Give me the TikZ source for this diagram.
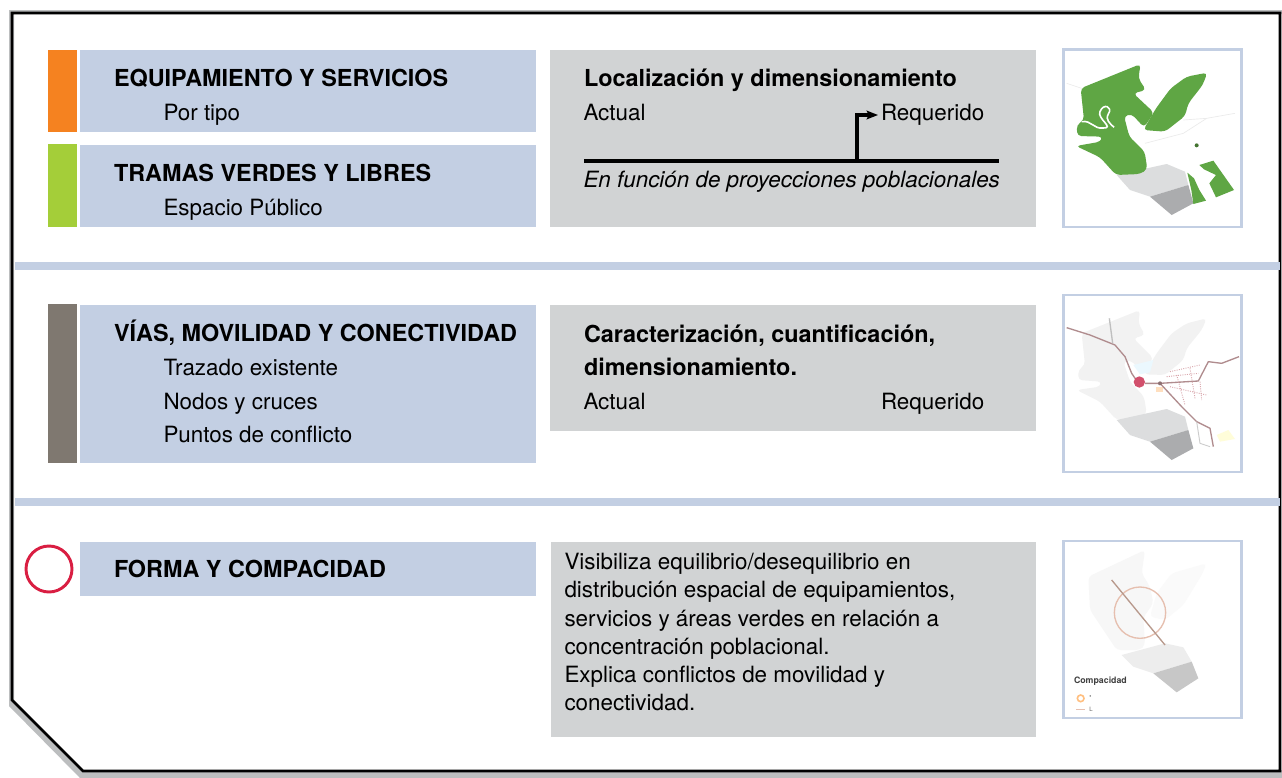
\documentclass[tikz,border=0pt]{standalone}
\usepackage{fontspec}
\setmainfont{TeX Gyre Heros}
\usetikzlibrary{arrows.meta}
\definecolor{bluebox}{HTML}{C3CFE3}
\definecolor{graybox}{HTML}{D1D3D4}
\definecolor{mapgreen}{HTML}{5FA644}
\definecolor{maplight}{HTML}{DCDDDE}
\definecolor{mapdark}{HTML}{ABACAE}
\definecolor{road}{HTML}{D9A5AB}
\definecolor{roaddark}{HTML}{B08C8E}
\definecolor{mkorange}{HTML}{F58220}
\definecolor{mkgreen}{HTML}{A4CE39}
\definecolor{mkbrown}{HTML}{7F7870}
\definecolor{mkred}{HTML}{D91E42}
\definecolor{nodered}{HTML}{D2506C}
\definecolor{compline}{HTML}{E6BFAF}
\tikzset{
  every node/.style={inner sep=0pt,outer sep=0pt,text=black},
  blueb/.style={fill=bluebox,draw=none},
  grayb/.style={fill=graybox,draw=none},
  title/.style={anchor=base west,font=\fontsize{17.55pt}{20pt}\selectfont\bfseries},
  body/.style={anchor=base west,font=\fontsize{16.8pt}{20pt}\selectfont},
  mapframe/.style={draw=bluebox,line width=2.2pt,fill=white},
  roadl/.style={draw=road,line width=0.7pt,line join=round},
  roadd/.style={draw=roaddark,line width=1pt,line join=round},
}
\begin{document}
\begin{tikzpicture}[x=0.75pt,y=-0.75pt]
\useasboundingbox (0,0) rectangle (1282,778);
\fill[white] (0,0) rectangle (1282,778);
% frame with shadow
\fill[graybox!90!black] (9,10) -- (1282,10) -- (1282,14) -- (14,14) -- (14,700) -- (83,770) -- (1282,770) -- (1282,778) -- (80,778) -- (9,706) -- cycle;
\draw[black,line width=2pt,line join=miter] (12,13) -- (1280,13) -- (1280,771) -- (83,771) -- (12,700) -- cycle;
% separators
\fill[bluebox] (15,262) rectangle (1280,270);
\fill[bluebox] (15,498) rectangle (1280,506);
% side markers
\fill[mkorange] (48,50) rectangle (77,132);
\fill[mkgreen] (48,144) rectangle (77,227);
\fill[mkbrown] (48,304) rectangle (77,463);
\draw[mkred,line width=2.2pt] (49,569) circle [radius=23];
% blue boxes
\fill[blueb] (80,50) rectangle (536,132);
\fill[blueb] (80,145) rectangle (536,227);
\fill[blueb] (80,305) rectangle (536,463);
\fill[blueb] (80,542) rectangle (536,596);
% gray boxes
\fill[grayb] (550,50) rectangle (1036,227);
\fill[grayb] (550,305) rectangle (1036,431);
\fill[grayb] (551,542) rectangle (1036,737);
% left texts
\node[title] (t1) at (114,86) {EQUIPAMIENTO Y SERVICIOS};
\node[body] (t1a) at (163.5,120) {Por tipo};
\node[title] (t2) at (114,181) {TRAMAS VERDES Y LIBRES};
\node[body] (t2a) at (163.5,215) {Espacio Público};
\node[title] (t3) at (114,341) {VÍAS, MOVILIDAD Y CONECTIVIDAD};
\node[body] (t3a) at (163.5,375) {Trazado existente};
\node[body] (t3b) at (163.5,409) {Nodos y cruces};
\node[body] (t3c) at (163.5,442) {Puntos de conflicto};
\node[title] (t4) at (114,577) {FORMA Y COMPACIDAD};
% gray box texts
\node[title] (g1) at (584,86) {Localización y dimensionamiento};
\node[body] (g1a) at (583.5,120) {Actual};
\node[body] (g1b) at (881,120) {Requerido};
\node[body,font=\fontsize{16.8pt}{20pt}\selectfont\itshape] (g1c) at (583.5,187) {En función de proyecciones poblacionales};
\coordinate (ls) at (584,160.5);
\coordinate (le) at (999,160.5);
\coordinate (lm) at (857,160.5);
\coordinate (lt) at (878,115);
\draw[line width=3pt] (ls) -- (le);
\draw[line width=2.5pt,-{Stealth[length=8.5pt,width=6.5pt,inset=1.5pt]}] (lm) |- (lt);
\node[title] (g2) at (584,342) {Caracterización, cuantificación,};
\node[title] (g2a) at (584,375) {dimensionamiento.};
\node[body] (g2b) at (583.5,409) {Actual};
\node[body] (g2c) at (881,409) {Requerido};
\node[body] (g3a) at (564.5,569) {Visibiliza equilibrio/desequilibrio en};
\node[body] (g3b) at (564.5,597) {distribución espacial de equipamientos,};
\node[body] (g3c) at (564.5,626) {servicios y áreas verdes en relación a};
\node[body] (g3d) at (564.5,654) {concentración poblacional.};
\node[body] (g3e) at (564.5,682) {Explica conflictos de movilidad y};
\node[body] (g3f) at (564.5,710) {conectividad.};
% map frames
\draw[mapframe] (1063.5,49.5) rectangle (1241.5,227);
\draw[mapframe] (1063.5,295) rectangle (1241.5,472);
\draw[mapframe] (1063.5,541) rectangle (1241.5,718);
% map 1
\begin{scope}[shift={(1050,40)},x=0.25pt,y=-0.25pt]
\draw[black!8,line width=0.5pt] (50,130) -- (95,145);
\draw[black!8,line width=0.5pt] (400,240) -- (470,235) -- (555,220);
\draw[black!8,line width=0.5pt] (285,310) -- (400,280) -- (470,235);
\fill[maplight] (200,405) -- (350,372) -- (405,395) -- (415,435) -- (300,470) -- (240,450) -- cycle;
\fill[mapdark] (300,470) -- (415,435) -- (430,490) -- (365,525) -- cycle;
\fill[mapgreen,rounded corners=3pt] (92,145) -- (272,72) -- (265,115) -- (288,150) -- (250,160) -- (312,218) -- (282,262) -- (245,222) -- (222,228) -- (238,290) -- (284,335) -- (292,388) -- (270,402) -- (198,405) -- (150,352) -- (78,318) -- (152,305) -- (158,290) -- (82,288) -- (80,255) -- (102,240) -- cycle;
\fill[mapgreen,rounded corners=3pt] (318,205) -- (362,145) -- (410,110) -- (472,98) -- (458,135) -- (415,190) -- (405,228) -- (345,275) -- (280,270) -- cycle;
\fill[mapgreen] (412,398) -- (432,415) -- (448,450) -- (468,482) -- (430,492) -- (424,450) -- cycle;
\fill[mapgreen] (448,375) -- (490,362) -- (552,450) -- (498,472) -- (478,430) -- (498,405) -- (462,388) -- cycle;
\fill[mapgreen!70!black] (440,316) circle [radius=6];
\draw[white,line width=1.2pt] (95,245) .. controls (125,240) and (130,268) .. (160,264) .. controls (195,265) and (140,235) .. (150,215) .. controls (160,188) and (190,200) .. (175,222) .. controls (165,240) and (180,250) .. (192,262);
\end{scope}
% map 2
\begin{scope}[shift={(1050,285)},x=0.25pt,y=-0.25pt]
\fill[black!5,rounded corners=3pt] (95,145) -- (270,75) -- (265,115) -- (285,150) -- (250,160) -- (310,220) -- (280,262) -- (240,225) -- (220,230) -- (240,290) -- (282,335) -- (290,385) -- (270,400) -- (200,405) -- (150,350) -- (80,315) -- (150,305) -- (155,290) -- (85,285) -- (85,255) -- (105,240) -- cycle;
\fill[black!5,rounded corners=3pt] (320,205) -- (365,145) -- (410,115) -- (470,100) -- (455,135) -- (410,190) -- (400,225) -- (345,270) -- (282,268) -- cycle;
\fill[maplight] (200,405) -- (350,372) -- (405,395) -- (415,435) -- (300,470) -- (240,450) -- cycle;
\fill[mapdark] (300,470) -- (415,435) -- (430,490) -- (365,525) -- cycle;
\fill[yellow!15] (500,450) -- (535,435) -- (555,462) -- (510,470) -- cycle;
\fill[cyan!8] (250,240) -- (310,225) -- (300,262) -- (270,268) -- cycle;
\fill[orange!25] (318,305) -- (340,305) -- (340,322) -- (318,322) -- cycle;
\draw[roadd] (50,128) -- (120,150) -- (195,180) -- (225,215) -- (245,265) -- (262,290);
\draw[roadd,draw=black!25] (178,100) -- (188,175);
\draw[roadd] (285,295) -- (330,295) -- (445,288) -- (475,230) -- (515,235) -- (567,215);
\draw[roadd] (330,295) -- (395,365) -- (440,410) -- (480,430) -- (490,485);
\draw[roadl,draw=black!20] (440,410) -- (450,475) -- (480,485);
\draw[roadl,densely dotted] (360,260) -- (450,240);
\draw[roadl,densely dotted] (350,275) -- (445,265);
\draw[roadl,densely dotted] (360,305) -- (470,330);
\draw[roadl,densely dotted] (380,270) -- (405,360);
\draw[roadl,densely dotted] (420,250) -- (435,340);
\draw[roadl,densely dotted] (450,290) -- (455,345);
\fill[nodered] (268,291) circle [radius=17];
\fill[roaddark!80!black] (330,295) circle [radius=6];
\end{scope}
% map 3
\begin{scope}[shift={(1050,530)},x=0.25pt,y=-0.25pt]
\fill[black!3,rounded corners=3pt] (115,140) -- (285,60) -- (275,130) -- (300,170) -- (310,220) -- (280,262) -- (285,345) -- (270,360) -- (200,360) -- (120,240) -- cycle;
\fill[black!2,rounded corners=3pt] (320,190) -- (365,130) -- (470,100) -- (455,135) -- (400,225) -- (345,270) -- (300,260) -- cycle;
\fill[black!7] (215,375) -- (345,340) -- (400,352) -- (425,395) -- (310,430) -- (250,410) -- cycle;
\fill[black!22] (310,430) -- (425,395) -- (445,445) -- (380,487) -- cycle;
\draw[compline,line width=1pt] (270,248) circle [radius=77];
\draw[compline!80!black,line width=1pt] (185,150) -- (345,345);
\node[anchor=west,font=\fontsize{6.6pt}{7pt}\selectfont\bfseries,text=black!75] (leg) at (72,455) {Compacidad};
\draw[orange!50,line width=1.2pt] (92,505) circle [radius=10];
\draw[compline,line width=0.8pt] (78,538) -- (105,538);
\node[anchor=west,font=\fontsize{4.5pt}{5pt}\selectfont,text=black!60] (l1) at (118,502) {\textbullet};
\node[anchor=west,font=\fontsize{4.5pt}{5pt}\selectfont,text=black!60] (l2) at (118,538) {L};
\end{scope}
\end{tikzpicture}
\end{document}
